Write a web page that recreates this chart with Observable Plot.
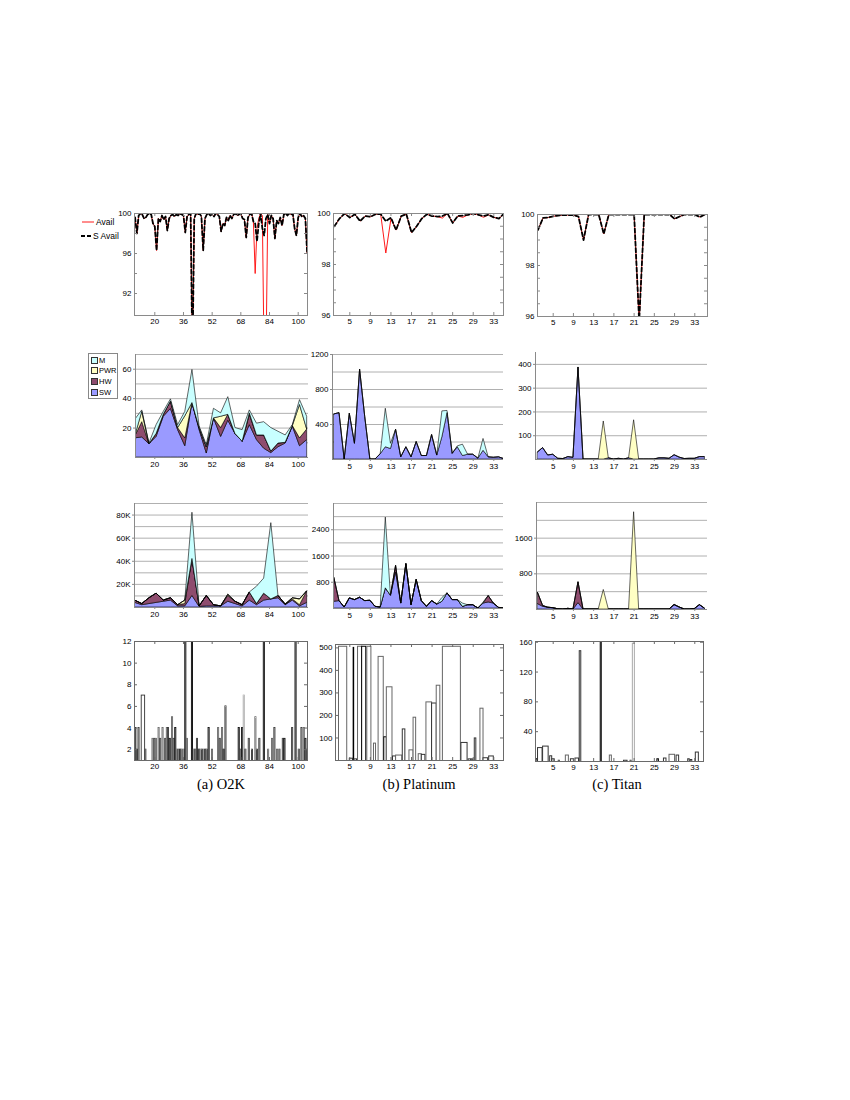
<!DOCTYPE html>
<html><head><meta charset="utf-8">
<script src="https://cdn.jsdelivr.net/npm/d3@7"></script>
<script src="https://cdn.jsdelivr.net/npm/@observablehq/plot@0.6"></script>
<style>
body{margin:0;background:#fff;}
#fig{position:relative;width:850px;height:1100px;overflow:hidden;font-family:'Liberation Sans',Arial,sans-serif;}
.cap{position:absolute;font-family:'Liberation Serif','Times New Roman',serif;font-size:14.5px;transform:translateX(-50%);white-space:nowrap;top:776px;}
</style></head>
<body><div id="fig"></div>
<script>
// ---------------- DATA ----------------
// Row 1: availability (%)
const o2kDays = [9,10,11,12,13,14,15,16,17,18,19,20,21,22,23,24,25,26,27,28,29,30,31,32,33,34,35,36,37,38,39,40,41,42,43,44,45,46,47,48,49,50,51,52,53,54,55,56,57,58,59,60,61,62,63,64,65,66,67,68,69,70,71,72,73,74,75,76,77,78,79,80,81,82,83,84,85,86,87,88,89,90,91,92,93,94,95,96,97,98,99,100,101,102,103,104,105];
const o2kAvail = [99.6,98.0,99.8,100,99.9,99.5,99.6,99.9,100,99.9,
  99.0,98.7,96.3,99.5,99.2,99.8,99.4,99.7,98.3,99.5,
  99.8,99.9,99.7,99.9,99.8,100,99.9,99.8,98.1,99.7,
  99.9,100,85,99.5,100,99.9,100,99.7,96.3,99.5,
  99.9,100,99.8,99.9,99.7,100,99.9,99.7,98.2,99.0,
  98.8,99.6,99.3,99.8,99.5,99.9,100,99.8,99.9,100,
  99.5,99.4,97.6,99.6,99.9,100,99.2,94.0,98.5,99.5,
  100,99.8,85,85,99.9,99.0,99.8,99.5,97.5,99.3,
  99.0,99.6,98.8,99.9,100,99.8,100,99.9,100,98.5,
  97.8,99.6,100,99.7,99.8,99.5,96.0];
const o2kSAvail = [99.6,98.0,99.8,100,99.9,99.5,99.6,99.9,100,99.9,
  99.0,98.7,96.3,99.5,99.2,99.8,99.4,99.7,98.3,99.5,
  99.8,99.9,99.7,99.9,99.8,100,99.9,99.8,98.1,99.7,
  99.9,100,85,99.5,100,99.9,100,99.7,96.3,99.5,
  99.9,100,99.8,99.9,99.7,100,99.9,99.7,98.2,99.0,
  98.8,99.6,99.3,99.8,99.5,99.9,100,99.8,99.9,100,
  99.5,99.4,97.6,99.6,99.9,100,99.2,99.0,97.2,99.0,
  100,98.5,97.8,99.5,99.9,99.0,99.8,99.5,97.5,99.3,
  99.0,99.6,98.8,99.9,100,99.8,100,99.9,100,98.5,
  97.8,99.6,100,99.7,99.8,99.5,96.0];
const weeks = [2,3,4,5,6,7,8,9,10,11,12,13,14,15,16,17,18,19,20,21,22,23,24,25,26,27,28,29,30,31,32,33,34,35];
const platAvail  = [99.5,99.8,100,99.84,99.97,99.7,99.9,99.87,99.97,99.98,98.45,99.8,99.35,99.9,99.97,99.25,99.5,99.8,99.97,99.9,99.88,99.82,100,99.63,99.9,99.85,99.95,100,99.95,99.85,99.95,99.85,99.8,100];
const platSAvail = [99.5,99.8,100,99.84,99.97,99.7,99.9,99.87,99.97,99.98,99.7,99.84,99.35,99.9,99.97,99.25,99.5,99.8,99.97,99.9,99.88,99.9,100,99.63,99.9,99.92,99.95,100,99.95,99.9,99.95,99.85,99.8,100];
const titanAvail = [99.4,99.87,99.88,99.93,99.96,99.98,99.98,99.98,99.92,99.0,100,100,100,99.24,100,100,100,100,100,100,95.8,100,100,100,100,100,100,99.83,99.92,100,100,100,99.9,100];
const titanSAvail = titanAvail.slice();

// Rows 2 & 3: outage causes (stacked)
const causes = ["M","PWR","HW","SW"];
const o2kMonths = [9,13,17,21,25,29,33,37,41,45,49,53,57,61,65,69,73,77,81,85,89,93,97,101,105];
const o2kCntSW  = [13,13.6,9,14,27.7,33,18.6,7.7,37,18.6,2.7,26.6,14,25,16,10.7,22,11.8,6,3,7,9.5,21,7.7,11.8];
const o2kCntHW  = [1,10.4,0,2,1.3,5,1.4,5.3,0,1.4,4.3,0,6,4,0,0,7,3.2,9,1,2.5,0.5,0.4,5.3,7.2];
const o2kCntPWR = [0,7,0,0,0,0,0,15,0,0,0,0,7.7,0,0,0,1,0,0,0,0,0,0,22.7,0];
const o2kCntM   = [11.5,1,0.5,6,2,1.5,2,3,22.5,1,1.4,6.5,2.3,12,4,7.9,2,8,9,16,8,5,0.6,3.3,8.7];
const platCntSW = [515,530,0,523,180,1027,485,0,0,60,140,120,340,25,140,25,200,40,40,280,45,255,530,65,140,40,55,55,10,100,25,20,25,5];
const platCntM  = [0,0,0,0,0,0,0,0,0,0,440,60,0,0,0,0,0,0,0,0,0,295,25,0,10,130,0,0,0,135,0,0,0,0];
const titanCntSW  = [30,48,17,20,3,2,10,7,387,0,0,0,0,0,5,0,3,0,5,0,0,0,0,0,5,5,3,18,8,2,3,3,10,10];
const titanCntPWR = [0,0,0,0,0,0,0,0,0,0,0,0,0,160,0,0,0,0,0,165,0,0,0,0,0,0,0,0,0,0,0,0,0,0];
// durations (row 3); O2K in thousands
const o2kDurSW  = [4,2,3,4,5,6,1,1,10,0.5,1,1,1,5,3,1,6,2,6,7,8,2,6,1,4];
const o2kDurHW  = [2,1,5,8,1,2,1,2,32,0.5,9,1,0,5,2,1,7,1,6,0,2,0.5,1,1,10];
const o2kDurPWR = [0,0,0,0,0,0,0,3,0,0,0,0,0,1,0,0,0,0,0,0,0,0,1,5,0];
const o2kDurM   = [0,0,0,0,0,0,0,0,40,0,0,0,0,0,0,0,0,15,13,66,0,0,0,0,0];
const platDurSW = [205,225,30,308,256,328,225,236,51,30,615,390,1100,150,1354,100,872,225,50,225,120,205,460,256,256,50,100,100,0,150,185,150,20,0];
const platDurHW = [720,0,0,0,0,0,0,0,0,0,0,0,200,0,0,0,0,0,0,0,0,0,0,0,0,0,0,0,0,0,195,0,0,0];
const platDurM  = [0,0,0,0,0,0,0,0,0,0,2155,0,0,0,0,0,0,0,0,0,0,115,0,0,0,100,0,0,0,30,0,0,0,0];
const titanDurSW  = [120,60,40,30,5,0,15,0,143,0,0,0,0,0,0,0,0,0,0,0,0,0,0,0,0,0,0,100,45,0,0,10,98,20];
const titanDurHW  = [250,20,0,0,0,0,0,0,468,0,0,0,0,0,0,0,0,0,0,0,0,0,0,0,0,0,0,0,0,0,0,0,0,0];
const titanDurPWR = [0,0,0,0,0,0,0,0,0,0,0,0,0,438,0,0,0,0,0,2182,0,0,0,0,0,0,0,0,0,0,0,0,0,0];

// Row 4: histograms (bar position, value, series)
const o2kBarX = [9.4,10.3,11.2,15,19,20,20.9,22.4,23.3,24.6,26.1,27,27.6,28.6,29.9,30.8,31.7,32.6,33.5,34.5,35.4,36.4,37.3,38.2,41,42,42.9,43.8,44.8,45.7,46.6,47.5,48.5,49.4,50.3,52.2,55.6,56.5,57.8,58.7,59.7,67.1,68,69,69.9,70.8,72.7,74.5,76.4,77.3,78.6,81.1,83.5,85.7,87,88.5,89.8,91.7,92.6,96.9,98.8,100.6,102.1,103.4,104.3,105.3];
const o2kBarV = [4,2,4,2,3,3,3,4,3,4,3,4,4,3,5,3,4,2,2,2,2,2,14,3,14,2,2,3,2,2,2,2,2,2,4,2,4,3,4,2,6,4,2,4,7,2,3,2,5,2,3,14,2,3,4,2,2,3,3,4,14,2,4,4,3,2];
const o2kBarS = ["k","d","d","d","m","d","m","m","d","m","d","m","d","k","m","d","k","m","d","k","m","m","k","m","k","m","d","d","k","m","d","m","k","m","k","m","m","d","m","k","d","k","d","k","l","d","d","d","m","d","d","k","m","m","d","m","d","d","k","d","k","d","d","m","k","d"];
const o2kBoxLo = [12.7], o2kBoxHi = [14.6], o2kBoxV = [7], o2kBoxS = ["d"];
const platBarLo = [2.9,5.0,5.75,5.9,6.6,7.4,8.4,9.7,10.6,11.7,12.2,13.4,14.0,15.3,16.6,17.4,18.4,19.0,19.9,21.0,21.9,23.1,26.7,28.1,28.7,29.3,30.4,31.0,32.1];
const platBarHi = [4.5,5.6,5.85,6.4,7.4,8.2,9.2,10.1,11.6,12.2,13.3,14.0,15.2,15.8,17.4,17.9,19.0,19.7,21.0,21.9,22.6,26.6,27.9,28.6,29.0,29.6,31.0,31.9,33.0];
const platBarV  = [505,8,500,5,505,505,505,75,460,103,325,18,22,138,45,190,28,25,258,253,332,505,78,5,5,98,230,10,18];
const platBarS  = ["m","d","k","d","m","k","m","m","m","k","m","d","m","d","m","m","m","d","m","d","m","m","d","d","d","d","m","d","d"];
const titanBarLo = [1.7,2.0,3.0,4.4,4.8,6.1,7.5,8.5,9.4,10.25,14.4,16.2,19.0,20.3,20.75,25.6,26.9,28.0,29.4,31.7,32.2,33.2];
const titanBarHi = [2.0,2.9,4.1,4.8,5.3,6.3,8.1,9.1,10.1,10.55,14.6,16.6,19.7,20.5,21.15,25.9,27.4,29.1,29.9,32.0,32.5,33.8];
const titanBarV  = [3,18,20,7,3,1,8,3,4,148,170,8,1,1,158,3,4,9,8,3,2,12];
const titanBarS  = ["k","d","d","d","d","d","m","d","d","d","k","m","d","d","l","k","d","m","d","d","d","d"];

const xTicksA = [20,36,52,68,84,100];
const xTicksB = [5,9,13,17,21,25,29,33];
const captions = ["(a) O2K","(b) Platinum","(c) Titan"];
const causeColors = ["#c8ffff","#ffffc4","#8e4c6e","#9a9aff"];
const shadeKeys = ["k","d","m","l"];
const shadeColors = ["#000000","#333333","#666666","#aaaaaa"];

// ---------------- LAYOUT HELPERS ----------------
const FONT = "'Liberation Sans', Arial, sans-serif";
const fmt = d => String(d);
const fig = document.getElementById("fig");
// column x calibration: [ref value, ref px, px per unit]
const COL = {a:[20,154.3,1.7925], b:[5,349.3,5.143], c:[5,552.7,5.057]};
function xdom(col, fx, fw){const [v,p,k]=COL[col];return [v+(fx-p)/k, v+(fx+fw-p)/k];}

function addPlot(fx, fy, fw, fh, opts, marks){
  const mL=34,mR=6,mT=6,mB=16;
  const svg = Plot.plot({
    width:mL+fw+mR, height:mT+fh+mB,
    marginLeft:mL, marginRight:mR, marginTop:mT, marginBottom:mB,
    style:{fontFamily:FONT,fontSize:"8px",background:"transparent",color:"#000",overflow:"visible"},
    ...opts, marks
  });
  svg.style.position="absolute";
  svg.style.left=(fx-mL)+"px"; svg.style.top=(fy-mT)+"px";
  fig.appendChild(svg);
}
function innerTicks(xt, yt, fw, fh, len=3, stroke="#8a8a8a"){
  return [
    Plot.tickX(xt,{x:d=>d,stroke,insetTop:fh-len}),
    Plot.tickX(xt,{x:d=>d,stroke,insetBottom:fh-len}),
    Plot.tickY(yt,{y:d=>d,stroke,insetRight:fw-len}),
    Plot.tickY(yt,{y:d=>d,stroke,insetLeft:fw-len})
  ];
}
function availPanel(col, fx, fy, fw, fh, xs, av, sav, yDom, yTicks, yMinor, xt){
  const pts = xs.map((x,i)=>({x,a:av[i],s:sav[i]}));
  addPlot(fx,fy,fw,fh,{x:{domain:xdom(col,fx,fw)},y:{domain:yDom}},[
    Plot.line(pts,{x:"x",y:"a",stroke:"#ff1a1a",strokeWidth:1,clip:true}),
    Plot.line(pts,{x:"x",y:"s",stroke:"#000",strokeWidth:1.8,strokeDasharray:"4,2.5",clip:true}),
    Plot.frame({stroke:"#8a8a8a"}),
    ...innerTicks(xt,yMinor,fw,fh),
    Plot.axisX({ticks:xt,tickFormat:fmt,tickSize:0,tickPadding:3,label:null}),
    Plot.axisY({ticks:yTicks,tickFormat:fmt,tickSize:0,tickPadding:3,label:null})
  ]);
}
function stackPanel(col, fx, fy, fw, fh, xs, layers, yDom, grid, yTicks, yFmt, xt){
  const data=[];
  for (const k of ["SW","HW","PWR","M"]) if (layers[k]) xs.forEach((x,i)=>data.push({x,k,v:layers[k][i]}));
  addPlot(fx,fy,fw,fh,{x:{domain:xdom(col,fx,fw)},y:{domain:yDom},color:{domain:causes,range:causeColors}},[
    Plot.ruleY(grid,{stroke:"#9c9c9c",strokeWidth:0.8}),
    Plot.areaY(data,{x:"x",y:"v",fill:"k",order:["SW","HW","PWR","M"],stroke:"#000",strokeWidth:0.6,strokeLinejoin:"round",clip:true}),
    Plot.ruleX([xdom(col,fx,fw)[0]],{stroke:"#8a8a8a"}),
    Plot.ruleY([yDom[0]],{stroke:"#8a8a8a"}),
    Plot.axisY({ticks:yTicks,tickFormat:yFmt,tickSize:2,tickPadding:2,stroke:"#8a8a8a",label:null}),
    Plot.axisX({ticks:xt,tickFormat:fmt,tickSize:2,tickPadding:2,stroke:"#8a8a8a",label:null})
  ]);
}
function barPanel(col, fx, fy, fw, fh, bars, yDom, yTicks, xt, sw){
  addPlot(fx,fy,fw,fh,{x:{domain:xdom(col,fx,fw)},y:{domain:yDom},color:{domain:shadeKeys,range:shadeColors}},[
    Plot.rect(bars,{x1:"lo",x2:"hi",y1:yDom[0]-50,y2:"v",fill:"white",stroke:"s",strokeWidth:sw,clip:true}),
    Plot.frame({stroke:"#6a6a6a"}),
    ...innerTicks(xt,yTicks,fw,fh,3,"#6a6a6a"),
    Plot.axisX({ticks:xt,tickFormat:fmt,tickSize:0,tickPadding:3,label:null}),
    Plot.axisY({ticks:yTicks,tickFormat:fmt,tickSize:0,tickPadding:3,label:null})
  ]);
}

// ---------------- ROW 1 ----------------
availPanel("a",134,213,173,102,o2kDays,o2kAvail,o2kSAvail,[89.8,100],[92,96,100],[92,94,96,98,100],xTicksA);
availPanel("b",333,213,170,102,weeks,platAvail,platSAvail,[96,100],[96,98,100],[96.5,97,97.5,98,98.5,99,99.5],xTicksB);
availPanel("c",537,214,170,102,weeks,titanAvail,titanSAvail,[96,100],[96,98,100],[96.5,97,97.5,98,98.5,99,99.5],xTicksB);

// ---------------- ROW 2 ----------------
stackPanel("a",135,354,173,103,o2kMonths,{SW:o2kCntSW,HW:o2kCntHW,PWR:o2kCntPWR,M:o2kCntM},[0,70],[10,20,30,40,50,60,70],[20,40,60],fmt,xTicksA);
stackPanel("b",332,354,171,105,weeks,{SW:platCntSW,M:platCntM},[0,1200],[200,400,600,800,1000,1200],[400,800,1200],fmt,xTicksB);
stackPanel("c",535,352,172,107,weeks,{SW:titanCntSW,PWR:titanCntPWR},[0,450],[100,200,300,400],[100,200,300,400],fmt,xTicksB);

// ---------------- ROW 3 ----------------
stackPanel("a",134,503,174,104,o2kMonths,{SW:o2kDurSW,HW:o2kDurHW,PWR:o2kDurPWR,M:o2kDurM},[0,90],[10,20,30,40,50,60,70,80,90],[20,40,60,80],d=>d+"K",xTicksA);
stackPanel("b",333,503,170,105,weeks,{SW:platDurSW,HW:platDurHW,M:platDurM},[0,3200],[400,800,1200,1600,2000,2400,2800,3200],[800,1600,2400],fmt,xTicksB);
stackPanel("c",536,502,171,107,weeks,{SW:titanDurSW,HW:titanDurHW,PWR:titanDurPWR},[0,2400],[400,800,1200,1600,2000,2400],[800,1600],fmt,xTicksB);

// ---------------- ROW 4 ----------------
const barsA = o2kBarX.map((x,i)=>({lo:x-0.3,hi:x+0.3,v:o2kBarV[i],s:o2kBarS[i]}))
  .concat(o2kBoxLo.map((lo,i)=>({lo,hi:o2kBoxHi[i],v:o2kBoxV[i],s:o2kBoxS[i]})));
const barsB = platBarLo.map((lo,i)=>({lo,hi:platBarHi[i],v:platBarV[i],s:platBarS[i]}));
const barsC = titanBarLo.map((lo,i)=>({lo,hi:titanBarHi[i],v:titanBarV[i],s:titanBarS[i]}));
barPanel("a",134,641,173,119,barsA,[1,12],[2,4,6,8,10,12],xTicksA,0.9);
barPanel("b",335,644,168,116,barsB,[0,515],[100,200,300,400,500],xTicksB,1);
barPanel("c",535,641,168,120,barsC,[0,161],[40,80,120,160],xTicksB,1);

// ---------------- LEGENDS & CAPTIONS ----------------
const lg1 = document.createElement("div");
lg1.innerHTML = `<svg width="50" height="30" style="position:absolute;left:78px;top:214px;overflow:visible">
<line x1="4" x2="16" y1="8" y2="8" stroke="#ff1a1a" stroke-width="1"/>
<text x="18" y="11" font-size="8.5" font-family="${FONT}">Avail</text>
<line x1="3" x2="14" y1="22" y2="22" stroke="#000" stroke-width="1.8" stroke-dasharray="4,2"/>
<text x="15" y="25" font-size="8.5" font-family="${FONT}">S Avail</text></svg>`;
fig.appendChild(lg1);
const lg2 = document.createElement("div");
lg2.style.cssText="position:absolute;left:87.5px;top:352.5px;width:30px;height:46px;border:1px solid #888;box-sizing:border-box;background:#fff";
causes.forEach((c,i)=>{
  const r=document.createElement("div");
  r.style.cssText=`position:absolute;left:2px;top:${3+i*10.8}px;font-size:7.5px;line-height:8px;font-family:${FONT};white-space:nowrap`;
  r.innerHTML=`<span style="display:inline-block;width:5px;height:5px;border:1px solid #333;background:${causeColors[i]};vertical-align:-1px;margin-right:1.5px"></span>${c}`;
  lg2.appendChild(r);
});
fig.appendChild(lg2);
[221,419,617].forEach((x,i)=>{
  const d=document.createElement("div"); d.className="cap"; d.style.left=x+"px"; d.textContent=captions[i]; fig.appendChild(d);
});
</script></body></html>
